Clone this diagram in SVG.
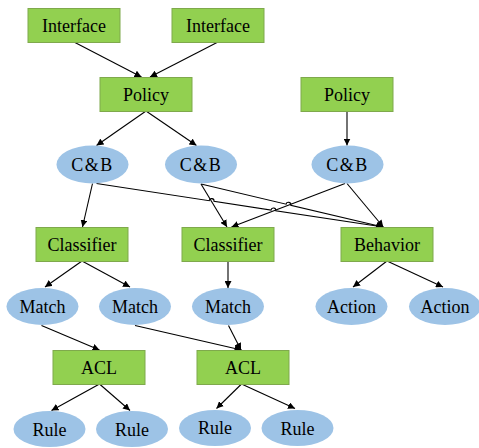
<svg xmlns="http://www.w3.org/2000/svg" width="479" height="448" viewBox="0 0 479 448">
<defs>
<style>
.box{fill:#92D050;stroke:#7FA94C;stroke-width:1}
.ell{fill:#9DC3E6;stroke:none}
.t{font-family:'Liberation Serif','Times New Roman',serif;font-size:18px;fill:#000;text-anchor:middle}
.e{fill:none;stroke:#000;stroke-width:1.1;marker-end:url(#ah)}
</style>
<marker id="ah" viewBox="0 0 10 10" refX="10" refY="5" markerWidth="7" markerHeight="7" markerUnits="userSpaceOnUse" orient="auto">
<path d="M0,0 L10,5 L0,10 z" fill="#000"/>
</marker>
</defs>
<rect width="479" height="448" fill="#fff"/>
<g id="connectors">
<path class="e" d="M74,42 L141.5,77"/>
<path class="e" d="M218,42 L150,77"/>
<path class="e" d="M146,111 L96.5,145.5"/>
<path class="e" d="M146,111 L196.5,145.5"/>
<path class="e" d="M347,111 L347,145.5"/>
<path class="e" d="M92.5,183.5 L82.5,227"/>
<path class="e" d="M96.5,183.5 L209.2,200.7 A2.4,2.4 0 0 1 214,201.4 L271,210.1 A2.4,2.4 0 0 1 275.8,210.8 L383.3,227"/>
<path class="e" d="M201,184 L227,227"/>
<path class="e" d="M201,184 L286.1,204.2 A2.4,2.4 0 0 1 290.8,205.3 L383,227"/>
<path class="e" d="M345,183.5 L231.5,227"/>
<path class="e" d="M347,183.5 L383.3,227"/>
<path class="e" d="M82,261 L45,287"/>
<path class="e" d="M82,261 L130,287"/>
<path class="e" d="M228,261 L228,288"/>
<path class="e" d="M387,261 L353,287"/>
<path class="e" d="M387,261 L443,287"/>
<path class="e" d="M41.5,325.5 L99.5,350"/>
<path class="e" d="M135,325.5 L241.5,350"/>
<path class="e" d="M228.5,325.5 L241,350"/>
<path class="e" d="M99.5,384 L51.5,410.5"/>
<path class="e" d="M99.5,384 L130,410.5"/>
<path class="e" d="M241.5,384 L216.5,408.5"/>
<path class="e" d="M241.5,384 L295,408.5"/>
</g>
<g id="interface1"><rect class="box" x="28" y="8.5" width="92" height="34"/><text class="t" x="74" y="31.5">Interface</text></g>
<g id="interface2"><rect class="box" x="172" y="8.5" width="92" height="34"/><text class="t" x="218" y="31.5">Interface</text></g>
<g id="policy1"><rect class="box" x="100" y="77.5" width="92" height="34"/><text class="t" x="146" y="100.5">Policy</text></g>
<g id="policy2"><rect class="box" x="301" y="77.5" width="92" height="34"/><text class="t" x="347" y="100.5">Policy</text></g>
<g id="cb1"><ellipse class="ell" cx="92.5" cy="164.5" rx="36" ry="19"/><text class="t" x="92.5" y="171" letter-spacing="1.5">C&amp;B</text></g>
<g id="cb2"><ellipse class="ell" cx="201" cy="164.5" rx="36" ry="19"/><text class="t" x="201" y="171" letter-spacing="1.5">C&amp;B</text></g>
<g id="cb3"><ellipse class="ell" cx="347.5" cy="164.5" rx="36" ry="19"/><text class="t" x="347.5" y="171" letter-spacing="1.5">C&amp;B</text></g>
<g id="classifier1"><rect class="box" x="36" y="227.5" width="92" height="34"/><text class="t" x="82" y="250.5">Classifier</text></g>
<g id="classifier2"><rect class="box" x="182" y="227.5" width="92" height="34"/><text class="t" x="228" y="250.5">Classifier</text></g>
<g id="behavior"><rect class="box" x="341" y="227.5" width="92" height="34"/><text class="t" x="387" y="250.5">Behavior</text></g>
<g id="match1"><ellipse class="ell" cx="42.5" cy="306.5" rx="36" ry="18.5"/><text class="t" x="42.5" y="313">Match</text></g>
<g id="match2"><ellipse class="ell" cx="135" cy="306.5" rx="36" ry="18.5"/><text class="t" x="135" y="313">Match</text></g>
<g id="match3"><ellipse class="ell" cx="228" cy="306.5" rx="36" ry="18.5"/><text class="t" x="228" y="313">Match</text></g>
<g id="action1"><ellipse class="ell" cx="351.5" cy="306.5" rx="36" ry="18.5"/><text class="t" x="351.5" y="313">Action</text></g>
<g id="action2"><ellipse class="ell" cx="445" cy="306.5" rx="36" ry="18.5"/><text class="t" x="445" y="313">Action</text></g>
<g id="acl1"><rect class="box" x="53" y="350.5" width="92" height="34"/><text class="t" x="99" y="373.5">ACL</text></g>
<g id="acl2"><rect class="box" x="197" y="350.5" width="92" height="34"/><text class="t" x="243" y="373.5">ACL</text></g>
<g id="rule1"><ellipse class="ell" cx="49.5" cy="429" rx="36" ry="18"/><text class="t" x="49.5" y="435.5">Rule</text></g>
<g id="rule2"><ellipse class="ell" cx="132" cy="429" rx="36" ry="18"/><text class="t" x="132" y="435.5">Rule</text></g>
<g id="rule3"><ellipse class="ell" cx="215" cy="428" rx="36" ry="18"/><text class="t" x="215" y="434">Rule</text></g>
<g id="rule4"><ellipse class="ell" cx="297.5" cy="428" rx="36" ry="18"/><text class="t" x="297.5" y="434.5">Rule</text></g>
</svg>
